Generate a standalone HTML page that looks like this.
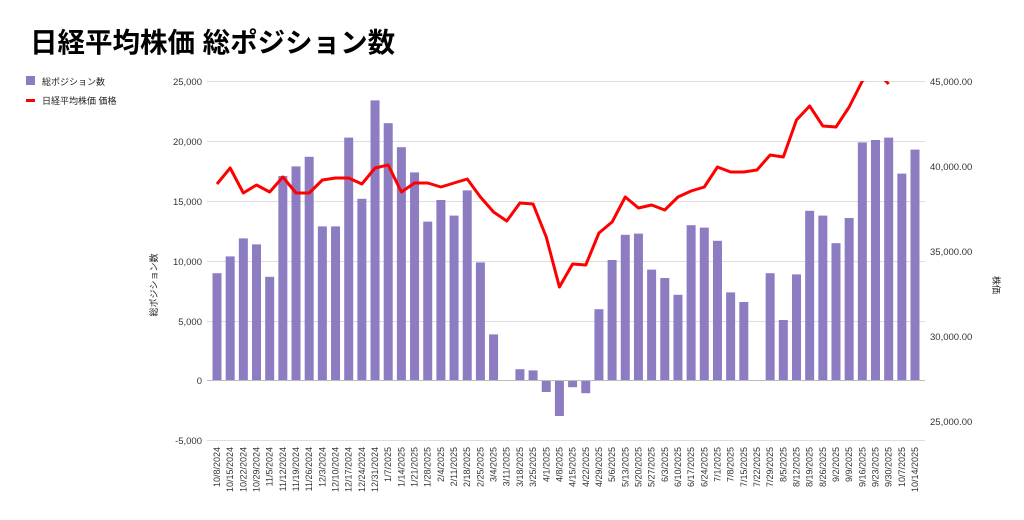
<!DOCTYPE html>
<html><head><meta charset="utf-8"><style>
body{margin:0;background:#fff;}
svg{display:block;font-family:"Liberation Sans","Noto Sans CJK JP",sans-serif;}
</style></head><body>
<svg width="1024" height="520" xmlns="http://www.w3.org/2000/svg">
<text x="30" y="52" font-size="27.5" font-weight="bold" fill="#000">日経平均株価 総ポジション数</text>
<rect x="26" y="76" width="9" height="9" fill="#8e7cc3"/>
<text x="42" y="85" font-size="9" fill="#222">総ポジション数</text>
<rect x="26" y="99" width="9" height="3" fill="#f00"/>
<text x="42" y="104" font-size="9" fill="#222">日経平均株価 価格</text>
<g stroke="#ddd" stroke-width="1">
<line x1="207" x2="925" y1="81.5" y2="81.5"/><line x1="207" x2="925" y1="141.5" y2="141.5"/>
<line x1="207" x2="925" y1="201.5" y2="201.5"/><line x1="207" x2="925" y1="261.5" y2="261.5"/>
<line x1="207" x2="925" y1="321.5" y2="321.5"/><line x1="207" x2="925" y1="440.5" y2="440.5"/>
</g>
<g font-size="9.5" fill="#333" text-anchor="end">
<text x="202" y="85">25,000</text><text x="202" y="145">20,000</text><text x="202" y="205">15,000</text>
<text x="202" y="265">10,000</text><text x="202" y="325">5,000</text><text x="202" y="384">0</text><text x="202" y="444">-5,000</text>
</g>
<g font-size="9.5" fill="#333">
<text x="930" y="85">45,000.00</text><text x="930" y="170">40,000.00</text><text x="930" y="255">35,000.00</text>
<text x="930" y="340">30,000.00</text><text x="930" y="425">25,000.00</text>
</g>
<text transform="translate(157,285) rotate(-90)" font-size="9" fill="#222" text-anchor="middle">総ポジション数</text>
<text transform="translate(993,285) rotate(90)" font-size="9" fill="#222" text-anchor="middle">株価</text>
<g id="bars" fill="#8e7cc3"></g>
<line x1="207" x2="925" y1="380.5" y2="380.5" stroke="#bbb"/>
<defs><clipPath id="c"><rect x="200" y="81" width="730" height="370"/></clipPath></defs>
<polyline id="ln" clip-path="url(#c)" fill="none" stroke="#f00" stroke-width="3" stroke-linejoin="round"/>
<g id="xl" font-size="9" fill="#333" text-anchor="end"></g>
</svg>
<script>
var v=[8900,10300,11800,11300,8600,17000,17800,18600,12800,12800,20200,15100,23300,21400,19400,17300,13200,15000,13700,15800,9800,3800,0,900,800,-1000,-3000,-600,-1100,5900,10000,12100,12200,9200,8500,7100,12900,12700,11600,7300,6500,0,8900,5000,8800,14100,13700,11400,13500,19800,20000,20200,17200,19200];
var ly=[184,168,193,185,192,177,193,193,180,178,178,184,168,165,192,183,183,187,183,179,197,212,221,203,204,237,287,264,265,233,222,197,208,205,210,197,191,187,167,172,172,170,155,157,120,106,126,127,107,81,70,84];
var d=[];var t=new Date(2024,9,8);
for(var i=0;i<54;i++){d.push(new Date(t.getTime()+i*7*864e5));}
var ns="http://www.w3.org/2000/svg",b=document.getElementById('bars'),xl=document.getElementById('xl'),pts=[];
for(var i=0;i<54;i++){var x=217+i*13.17;var h=v[i]*0.012;var r=document.createElementNS(ns,'rect');
r.setAttribute('x',x-4.5);r.setAttribute('width',9);r.setAttribute('y',h>=0?380-h:380);r.setAttribute('height',Math.abs(h));b.appendChild(r);
var tx=document.createElementNS(ns,'text');tx.setAttribute('transform','translate('+(x+3)+',447) rotate(-90)');
var dd=d[i];tx.textContent=(dd.getMonth()+1)+'/'+dd.getDate()+'/'+dd.getFullYear();xl.appendChild(tx);
if(i<ly.length)pts.push(x+','+ly[i]);}
document.getElementById('ln').setAttribute('points',pts.join(' '));
</script>
</body></html>
